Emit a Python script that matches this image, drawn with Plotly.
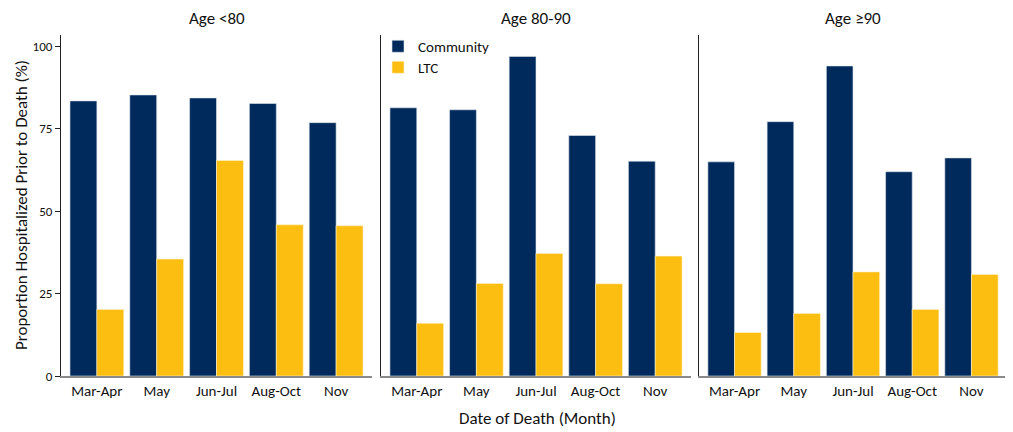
import plotly.graph_objects as go

months = ["Mar-Apr", "May", "Jun-Jul", "Aug-Oct", "Nov"]
panels = ["Age <80", "Age 80-90", "Age ≥90"]
community = [
    [83.5, 85.3, 84.4, 82.7, 76.9],
    [81.4, 80.8, 97.0, 73.0, 65.2],
    [65.0, 77.2, 94.1, 62.0, 66.2],
]
ltc = [
    [20.2, 35.5, 65.4, 45.9, 45.6],
    [16.0, 28.1, 37.2, 28.0, 36.4],
    [13.2, 19.0, 31.6, 20.2, 30.8],
]
y_ticks = [0, 25, 50, 75, 100]

NAVY = "#002A5C"
GOLD = "#FDBE12"
FONT = "Carlito, Liberation Sans Narrow, Liberation Sans, Arial"
OFF = 8  # page body margin
W, H = 1013 - OFF, 432 - OFF


def px(x):
    return (x - OFF) / W


def py(y):
    return 1 - (y - OFF) / H


fig = go.Figure()
xdoms = [(61, 372), (381, 691), (699, 1007)]
ydom = [py(376), py(35)]

for i in range(3):
    xa = "x" if i == 0 else f"x{i+1}"
    ya = "y" if i == 0 else f"y{i+1}"
    fig.add_trace(go.Bar(x=months, y=community[i], name="Community",
                         marker=dict(color=NAVY, line=dict(color="#dfe6ee", width=0.6)),
                         xaxis=xa, yaxis=ya, showlegend=(i == 0), legend="legend"))
    fig.add_trace(go.Bar(x=months, y=ltc[i], name="LTC",
                         marker=dict(color=GOLD, line=dict(color="#fff3cc", width=0.6)),
                         xaxis=xa, yaxis=ya, showlegend=(i == 0), legend="legend2"))

leg_common = dict(xanchor="left", yanchor="middle", bgcolor="rgba(0,0,0,0)",
                  font=dict(size=15, color="#111"), itemwidth=30)
layout = dict(
    width=W, height=H, margin=dict(l=0, r=0, t=0, b=0, autoexpand=False),
    paper_bgcolor="white", plot_bgcolor="white",
    barmode="group", bargap=0.1, bargroupgap=0,
    font=dict(family=FONT, size=15, color="#111"),
    showlegend=True,
    legend=dict(x=px(378), y=py(46.5), **leg_common),
    legend2=dict(x=px(378), y=py(67.5), **leg_common),
)
for i in range(3):
    key = "" if i == 0 else str(i + 1)
    x0, x1 = xdoms[i]
    layout["xaxis" + key] = dict(domain=[px(x0), px(x1)], range=[-0.6, 4.6], showline=True, linecolor="#8a8a8a",
                                 linewidth=1.5, ticks="", showgrid=False, zeroline=False, tickfont=dict(size=15),
                                 anchor="y" + key, automargin=False)
    layout["yaxis" + key] = dict(domain=ydom, range=[0, 103.5], showline=True, linecolor="#222", linewidth=1,
                                 showgrid=False, zeroline=False, anchor="x" + key, automargin=False,
                                 tickvals=y_ticks, ticks="outside" if i == 0 else "", ticklen=5,
                                 tickcolor="#222", showticklabels=(i == 0), tickfont=dict(size=13))
fig.update_layout(**layout)

for i, t in enumerate(panels):
    x0, x1 = xdoms[i]
    fig.add_annotation(text=t, x=px((x0 + x1) / 2), y=py(19), xref="paper", yref="paper",
                       showarrow=False, font=dict(size=17), xanchor="center", yanchor="middle")
fig.add_annotation(text="Date of Death (Month)", x=px(537), y=py(418), xref="paper", yref="paper",
                   showarrow=False, font=dict(size=17), xanchor="center", yanchor="middle")
fig.add_annotation(text="Proportion Hospitalized Prior to Death (%)", x=px(22), y=py(205), xref="paper",
                   yref="paper", showarrow=False, font=dict(size=17), textangle=-90,
                   xanchor="center", yanchor="middle")

fig.write_html("out.html")
